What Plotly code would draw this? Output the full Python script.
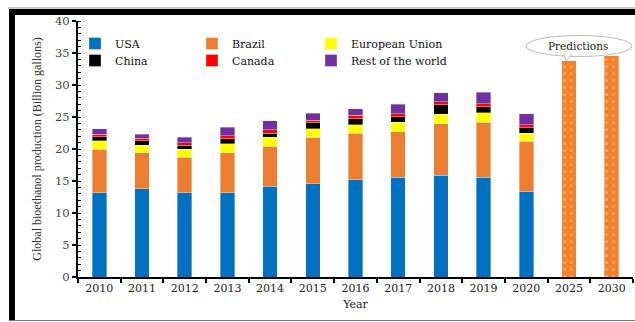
import plotly.graph_objects as go

years = ["2010", "2011", "2012", "2013", "2014", "2015", "2016", "2017", "2018", "2019", "2020"]
pred_years = ["2025", "2030"]
all_years = years + pred_years

usa = [13.2, 13.8, 13.2, 13.2, 14.2, 14.6, 15.2, 15.6, 15.9, 15.6, 13.3]
brazil = [6.8, 5.6, 5.55, 6.2, 6.2, 7.2, 7.25, 7.1, 8.05, 8.6, 7.9]
eu = [1.3, 1.2, 1.2, 1.4, 1.4, 1.4, 1.35, 1.5, 1.45, 1.5, 1.25]
china = [0.6, 0.7, 0.65, 0.8, 0.65, 1.0, 0.9, 0.85, 1.5, 0.9, 0.85]
canada = [0.4, 0.4, 0.4, 0.5, 0.55, 0.3, 0.6, 0.45, 0.5, 0.5, 0.5]
rest = [0.9, 0.6, 0.8, 1.3, 1.4, 1.1, 1.0, 1.5, 1.4, 1.8, 1.7]
predictions = [33.8, 34.6]

series_names = ["USA", "Brazil", "European Union", "China", "Canada", "Rest of the world"]
series_values = [usa, brazil, eu, china, canada, rest]
series_colors = ["#0070C0", "#ED7D31", "#FFFF00", "#000000", "#FF0000", "#7030A0"]

W, H = 635, 322
L, R, T, B = 78, 2, 21, 45
PW, PH = W - L - R, H - T - B

def px(x):
    return (x - L) / PW

def py(y):
    return (H - B - y) / PH

SERIF = "DejaVu Serif"

# legend slots (left pixel of legend box, top pixel) in a 2 x 3 grid
legend_cols = [75, 192, 311]
legend_rows = [29, 46]

fig = go.Figure()
legend_layout = {}
for i, (name, vals, col) in enumerate(zip(series_names, series_values, series_colors)):
    lid = "legend" if i == 0 else f"legend{i + 1}"
    fig.add_trace(go.Bar(
        x=years, y=vals, name=name, legend=lid,
        marker=dict(color=col, line=dict(color="rgba(255,255,255,0.6)", width=0.6)),
    ))
    legend_layout[lid] = dict(
        orientation="h", x=px(legend_cols[i % 3]), y=py(legend_rows[i // 3]),
        xanchor="left", yanchor="top", bgcolor="rgba(0,0,0,0)",
        font=dict(family=SERIF, size=11, color="#111"), itemclick=False, itemdoubleclick=False,
    )

fig.add_trace(go.Bar(
    x=pred_years, y=predictions, name="Predictions", showlegend=False,
    marker=dict(color="#F5822A", line=dict(color="rgba(255,255,255,0.5)", width=0.6),
                pattern=dict(shape=".", fgcolor="rgba(255,225,200,0.8)", size=7, solidity=0.15)),
))

fig.update_layout(
    width=W, height=H,
    margin=dict(l=L, r=R, t=T, b=B, autoexpand=False),
    barmode="stack", bargap=0.66,
    paper_bgcolor="white", plot_bgcolor="white",
    font=dict(family=SERIF, size=11, color="#111"),
    showlegend=True,
    xaxis=dict(
        type="category", categoryorder="array", categoryarray=all_years,
        showline=True, linecolor="black", linewidth=2,
        ticks="outside", ticklen=4, tickwidth=2, tickcolor="black", tickson="boundaries",
        tickfont=dict(family=SERIF, size=11, color="#222"),
        title=dict(text="Year", font=dict(family=SERIF, size=11, color="#222"), standoff=6),
        showgrid=False, zeroline=False,
    ),
    yaxis=dict(
        range=[0, 40], dtick=5, showline=True, linecolor="black", linewidth=2,
        ticks="outside", ticklen=4, tickwidth=2, tickcolor="black",
        minor=dict(dtick=1, ticks="inside", ticklen=3, tickwidth=1, tickcolor="black"),
        tickfont=dict(family=SERIF, size=11.5, color="#444"),
        title=dict(text="Global bioethanol production (Billion gallons)",
                   font=dict(family="Liberation Serif", size=12, color="#333"), standoff=11),
        showgrid=False, zeroline=False,
    ),
    **legend_layout,
)

# frame around the picture
fig.add_shape(type="line", xref="paper", yref="paper", x0=px(8), x1=px(640), y0=py(8), y1=py(8),
              line=dict(color="#999", width=1))
fig.add_shape(type="line", xref="paper", yref="paper", x0=px(9), x1=px(640), y0=py(12), y1=py(12),
              line=dict(color="black", width=6))
fig.add_shape(type="line", xref="paper", yref="paper", x0=px(12), x1=px(12), y0=py(9), y1=py(320),
              line=dict(color="black", width=6))
fig.add_shape(type="line", xref="paper", yref="paper", x0=px(9), x1=px(640), y0=py(320.5), y1=py(320.5),
              line=dict(color="#777", width=1))

# Predictions callout
fig.add_shape(type="circle", xref="paper", yref="paper", x0=px(526), x1=px(632), y0=py(35.5), y1=py(56.5),
              line=dict(color="#BBBBBB", width=1), fillcolor="white", layer="above")
fig.add_shape(type="path", xref="paper", yref="paper",
              path=f"M {px(564)} {py(54)} L {px(566)} {py(61)} L {px(572)} {py(54)}",
              line=dict(color="#BBBBBB", width=1), fillcolor="white", layer="above")
fig.add_annotation(xref="paper", yref="paper", x=px(578), y=py(46), text="Predictions", showarrow=False,
                   font=dict(family=SERIF, size=10.5, color="#222"), xanchor="center", yanchor="middle")

fig.write_html("out.html")
